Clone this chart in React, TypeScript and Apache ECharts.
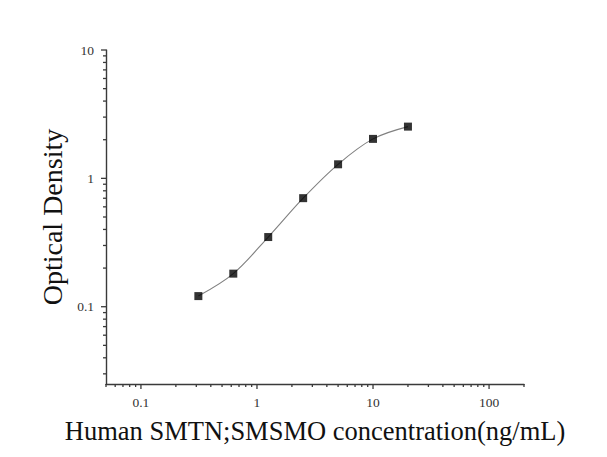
import React, { useEffect, useRef } from "react";
import * as echarts from "echarts";

// Standard curve readings
const concentrations = [0.3125, 0.625, 1.25, 2.5, 5, 10, 20];
const opticalDensity = [0.121, 0.181, 0.349, 0.701, 1.287, 2.03, 2.53];

// Axis ranges and tick marks (log scales)
const xRange = [0.05, 200];
const yRange = [0.025, 10];
const xMajorTicks = [0.1, 1, 10, 100];
const xMajorLabels = ["0.1", "1", "10", "100"];
const xMinorTicks = [
  0.05, 0.06, 0.07, 0.08, 0.09,
  0.2, 0.3, 0.4, 0.5, 0.6, 0.7, 0.8, 0.9,
  2, 3, 4, 5, 6, 7, 8, 9,
  20, 30, 40, 50, 60, 70, 80, 90, 200,
];
const yMajorTicks = [0.1, 1, 10];
const yMajorLabels = ["0.1", "1", "10"];
const yMinorTicks = [
  0.03, 0.04, 0.05, 0.06, 0.07, 0.08, 0.09,
  0.2, 0.3, 0.4, 0.5, 0.6, 0.7, 0.8, 0.9,
  2, 3, 4, 5, 6, 7, 8, 9,
];

const xTitle = "Human SMTN;SMSMO concentration(ng/mL)";
const yTitle = "Optical Density";

const FONT = "'Liberation Serif', 'DejaVu Serif', serif";
const AXIS_COLOR = "#3a3a3a";

function labelFor(value: number, ticks: number[], labels: string[]) {
  for (let i = 0; i < ticks.length; i++) {
    if (Math.abs(Math.log10(value) - Math.log10(ticks[i])) < 1e-6) return labels[i];
  }
  return "";
}

export default function App() {
  const ref = useRef<HTMLDivElement>(null);

  useEffect(() => {
    if (!ref.current) return;
    const chart = echarts.init(ref.current, undefined, { renderer: "svg" });

    const xTickData = [
      ...xMajorTicks.map((v) => [v, yRange[0], 5]),
      ...xMinorTicks.map((v) => [v, yRange[0], 3]),
    ];
    const yTickData = [
      ...yMajorTicks.map((v) => [xRange[0], v, 5]),
      ...yMinorTicks.map((v) => [xRange[0], v, 3]),
    ];

    chart.setOption({
      animation: false,
      backgroundColor: "#ffffff",
      grid: { left: 106, right: 83, top: 50, bottom: 73, containLabel: false },
      xAxis: {
        type: "log",
        logBase: 10,
        min: xRange[0],
        max: xRange[1],
        name: xTitle,
        nameLocation: "middle",
        nameGap: 33,
        nameTextStyle: { fontFamily: FONT, fontSize: 26.5, color: "#111" },
        axisLine: { show: true, lineStyle: { color: AXIS_COLOR, width: 1.4 } },
        axisTick: { show: false },
        splitLine: { show: false },
        axisLabel: {
          show: true,
          showMinLabel: false,
          showMaxLabel: false,
          margin: 11,
          fontFamily: FONT,
          fontSize: 13.5,
          color: "#333",
          formatter: (v: number) => labelFor(v, xMajorTicks, xMajorLabels),
        },
      },
      yAxis: {
        type: "log",
        logBase: 10,
        min: yRange[0],
        max: yRange[1],
        name: yTitle,
        nameLocation: "middle",
        nameGap: 37,
        nameRotate: 90,
        nameTextStyle: { fontFamily: FONT, fontSize: 28, color: "#111" },
        axisLine: { show: true, lineStyle: { color: AXIS_COLOR, width: 1.4 } },
        axisTick: { show: false },
        splitLine: { show: false },
        axisLabel: {
          show: true,
          showMinLabel: false,
          showMaxLabel: true,
          margin: 12,
          fontFamily: FONT,
          fontSize: 13.5,
          color: "#333",
          formatter: (v: number) => labelFor(v, yMajorTicks, yMajorLabels),
        },
      },
      series: [
        {
          type: "line",
          data: concentrations.map((c, i) => [c, opticalDensity[i]]),
          smooth: 0.35,
          showSymbol: false,
          lineStyle: { color: "#808080", width: 1.1 },
          z: 2,
        },
        {
          type: "scatter",
          data: concentrations.map((c, i) => [c, opticalDensity[i]]),
          symbol: "rect",
          symbolSize: 8,
          itemStyle: { color: "#000" },
          z: 3,
        },
        {
          type: "custom",
          clip: false,
          silent: true,
          data: xTickData,
          renderItem: (_params: any, api: any) => {
            const p = api.coord([api.value(0), api.value(1)]);
            const len = api.value(2);
            return {
              type: "line",
              shape: { x1: p[0], y1: p[1], x2: p[0], y2: p[1] + len },
              style: { stroke: AXIS_COLOR, lineWidth: 1.3 },
            };
          },
          z: 4,
        },
        {
          type: "custom",
          clip: false,
          silent: true,
          data: yTickData,
          renderItem: (_params: any, api: any) => {
            const p = api.coord([api.value(0), api.value(1)]);
            const len = api.value(2);
            return {
              type: "line",
              shape: { x1: p[0], y1: p[1], x2: p[0] - len, y2: p[1] },
              style: { stroke: AXIS_COLOR, lineWidth: 1.3 },
            };
          },
          z: 4,
        },
      ],
    });

    return () => chart.dispose();
  }, []);

  return <div ref={ref} style={{ width: 607, height: 457, margin: -8 }} />;
}
